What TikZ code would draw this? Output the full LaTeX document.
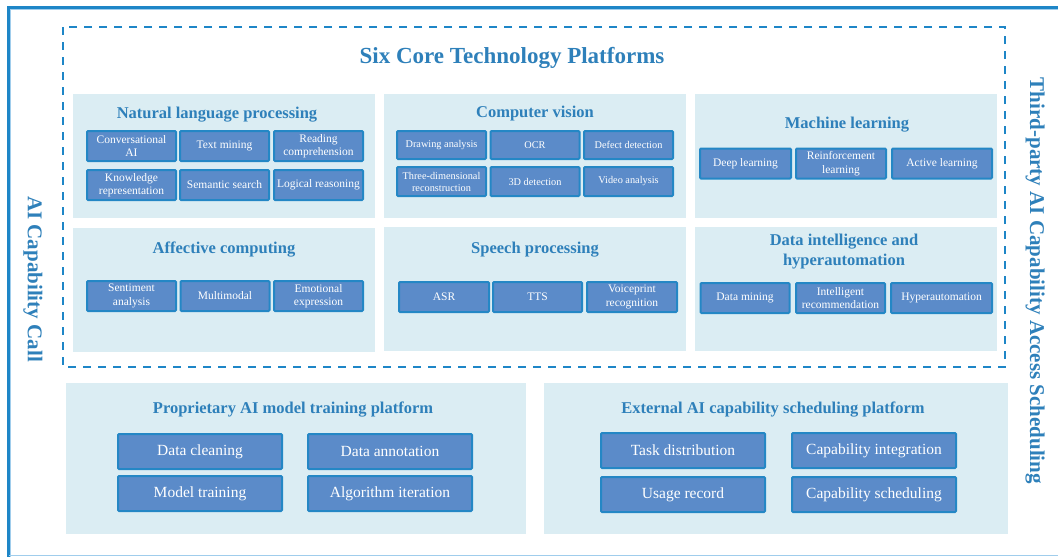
\documentclass[tikz,border=0pt]{standalone}
\usepackage{fontspec}
\setmainfont{Liberation Serif}
\definecolor{frameblue}{RGB}{30,134,199}
\definecolor{lightline}{RGB}{160,205,236}
\definecolor{panelbg}{RGB}{219,237,243}
\definecolor{itemfill}{RGB}{91,139,201}
\definecolor{itemline}{RGB}{36,135,197}
\definecolor{titleblue}{RGB}{46,128,186}

\begin{document}
\begin{tikzpicture}[x=1pt,y=-1pt,
		item/.style={draw=itemline,line width=2pt,fill=itemfill,text=white,rounded corners=1pt,
			inner sep=0pt,align=center,minimum width=89pt,minimum height=30pt,
			font=\fontsize{11.5}{13.5}\selectfont},
		small/.style={font=\fontsize{10.3}{12}\selectfont},
		big/.style={minimum width=164pt,minimum height=35pt,font=\fontsize{15.5}{18}\selectfont},
		ptitle/.style={text=titleblue,align=center,font=\bfseries\fontsize{16.5}{20}\selectfont},
		side/.style={text=titleblue,rotate=-90,font=\bfseries\fontsize{21}{24}\selectfont}]
	\useasboundingbox (0,0) rectangle (1058,557);
	\fill[white] (0,0) rectangle (1058,557);
	% frame
	\draw[frameblue,line width=3pt] (8,557) -- (8,7) -- (1058,7);
	\draw[lightline,line width=0.8pt] (10.8,557) -- (10.8,9.8) -- (1058,9.8);
	\draw[lightline,line width=1.2pt] (9,555.5) -- (1058,555.5);
	\draw[frameblue,line width=2pt,dash pattern=on 8pt off 7pt] (63,27) rectangle (1005,367);
	\node[side] (call) at (33,279) {AI Capability Call};
	\node[side] (access) at (1035,281) {Third-party AI Capability Access Scheduling};
	\node[text=titleblue,font=\bfseries\fontsize{23}{26}\selectfont] (six) at (512,58) {Six Core Technology Platforms};
	% panels
	\fill[panelbg] (73,94) rectangle (375,218);
	\fill[panelbg] (384,94) rectangle (686,218);
	\fill[panelbg] (695,94) rectangle (997,218);
	\fill[panelbg] (73,228) rectangle (375,352);
	\fill[panelbg] (384,227) rectangle (686,351);
	\fill[panelbg] (695,227) rectangle (997,351);
	\fill[panelbg] (66,383) rectangle (526,534);
	\fill[panelbg] (544,383) rectangle (1008,534);
	% natural language processing
	\node[ptitle] (nlp) at (217,114.5) {Natural language processing};
	\node[item] (conv) at (131.5,146) {Conversational\\AI};
	\node[item] (text) at (224.5,146) {Text mining};
	\node[item] (read) at (318.5,146) {Reading\\comprehension};
	\node[item] (know) at (131.5,185) {Knowledge\\representation};
	\node[item] (sem) at (224.5,185) {Semantic search};
	\node[item] (logic) at (318.5,185) {Logical reasoning};
	% computer vision
	\node[ptitle] (cv) at (535,113.5) {Computer vision};
	\node[item,small,minimum height=28pt] (draw) at (441.5,145) {Drawing analysis};
	\node[item,small,minimum height=28pt] (ocr) at (535,145) {OCR};
	\node[item,small,minimum height=28pt] (defect) at (628.5,145) {Defect detection};
	\node[item,small,minimum height=29pt] (three) at (441.5,181.5) {Three-dimensional\\reconstruction};
	\node[item,small,minimum height=29pt] (det) at (535,181.5) {3D detection};
	\node[item,small,minimum height=29pt] (video) at (628.5,181.5) {Video analysis};
	% machine learning
	\node[ptitle] (ml) at (847,124.5) {Machine learning};
	\node[item,minimum width=91pt] (deep) at (745.5,163.5) {Deep learning};
	\node[item,minimum width=90pt] (rein) at (841,163.5) {Reinforcement\\learning};
	\node[item,minimum width=100pt] (active) at (942,163.5) {Active learning};
	% affective computing
	\node[ptitle] (aff) at (224,249.5) {Affective computing};
	\node[item] (senti) at (131.5,296) {Sentiment\\analysis};
	\node[item] (multi) at (225,296) {Multimodal};
	\node[item] (emo) at (318.5,296) {Emotional\\expression};
	% speech processing
	\node[ptitle] (speech) at (535,249.5) {Speech processing};
	\node[item,minimum width=90pt] (asr) at (444,297) {ASR};
	\node[item,minimum width=89pt] (tts) at (537.5,297) {TTS};
	\node[item,minimum width=90pt] (voice) at (632,297) {Voiceprint\\recognition};
	% data intelligence
	\node[ptitle] (di) at (844,251.5) {Data intelligence and\\hyperautomation};
	\node[item] (mining) at (745,298) {Data mining};
	\node[item] (recom) at (840.5,298) {Intelligent\\recommendation};
	\node[item,minimum width=101pt] (hyper) at (941.5,298) {Hyperautomation};
	% proprietary platform
	\node[ptitle] (prop) at (293,409.5) {Proprietary AI model training platform};
	\node[item,big] (clean) at (200,451.5) {Data cleaning};
	\node[item,big] (annot) at (390,451.5) {Data annotation};
	\node[item,big] (train) at (200,493.5) {Model training};
	\node[item,big] (iter) at (390,493.5) {Algorithm iteration};
	% external platform
	\node[ptitle] (ext) at (773,409.5) {External AI capability scheduling platform};
	\node[item,big] (task) at (683,450.5) {Task distribution};
	\node[item,big] (integ) at (874,450.5) {Capability integration};
	\node[item,big] (usage) at (683,494.5) {Usage record};
	\node[item,big] (sched) at (874,494.5) {Capability scheduling};
\end{tikzpicture}
\end{document}
